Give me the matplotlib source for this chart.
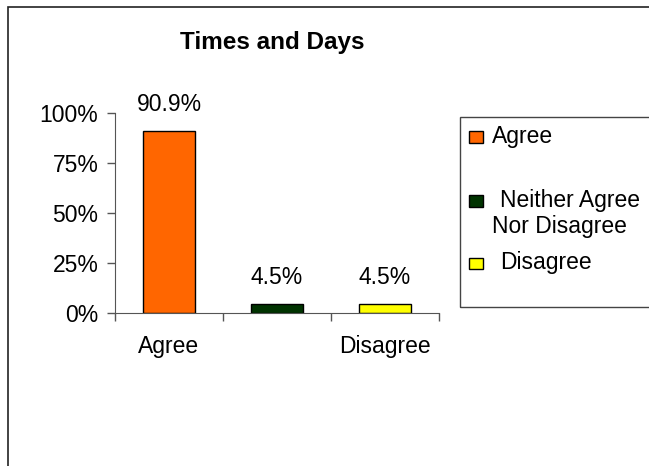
import numpy as np
import matplotlib.pyplot as plt
from matplotlib.patches import Rectangle

plt.rcParams['font.family'] = ['Liberation Sans', 'DejaVu Sans']

categories = ['Agree', 'Neither Agree Nor Disagree', 'Disagree']
tick_labels = ['Agree', '', 'Disagree']
legend_labels = ['Agree', ' Neither Agree\nNor Disagree', ' Disagree']
values = [0.909, 0.045, 0.045]
value_labels = ['90.9%', '4.5%', '4.5%']
colors = ['#FF6600', '#003300', '#FFFF00']

W, H = 649, 466
FS = 16.5
fig = plt.figure(figsize=(W/100, H/100), dpi=100)

def px(x, y):
    # pixel coords (from top-left) -> figure fraction
    return x / W, 1 - y / H

# outer chart border, runs off the right and bottom
fig.patches.append(Rectangle((8/W, -0.1), 1.2, 1 - 7/H + 0.1, transform=fig.transFigure,
                             fill=False, edgecolor='#222222', lw=1.2))

ax = fig.add_axes([115/W, 1 - 313/H, (439-115)/W, 200/H])
x = np.arange(len(values))
ax.bar(x, values, width=0.48, color=colors, edgecolor='black', lw=1.0)

for xi, v, lab in zip(x, values, value_labels):
    ax.annotate(lab, (xi, v), xytext=(0, 11), textcoords='offset points',
                ha='center', va='bottom', fontsize=FS)

ax.set_xlim(-0.5, 2.5)
ax.set_ylim(0, 1)
ax.set_yticks([0, 0.25, 0.5, 0.75, 1.0])
ax.set_yticklabels(['0%', '25%', '50%', '75%', '100%'], fontsize=FS)
ax.set_xticks(x)
ax.set_xticklabels(tick_labels, fontsize=FS)
ax.set_xticks([-0.5, 0.5, 1.5, 2.5], minor=True)
ax.tick_params(axis='x', which='major', length=0, pad=16)
ax.tick_params(axis='x', which='minor', length=6, color='#555555', width=1)
ax.tick_params(axis='y', length=6, color='#555555', width=1, pad=6)
for s in ['top', 'right']:
    ax.spines[s].set_visible(False)
for s in ['left', 'bottom']:
    ax.spines[s].set_color('#555555')

fig.text(*px(272, 42), 'Times and Days', ha='center', va='center',
         fontsize=17.5, fontweight='bold')

# legend drawn by hand: frame runs off the right edge
fig.patches.append(Rectangle(px(460, 307), 0.5, 190/H, transform=fig.transFigure,
                             fill=False, edgecolor='#444444', lw=1.0))
marker_y = [137, 201, 263]
for c, lab, my in zip(colors, legend_labels, marker_y):
    fig.patches.append(Rectangle(px(469, my + 5.5), 14/W, 11/H, transform=fig.transFigure,
                                 facecolor=c, edgecolor='black', lw=1.0))
    for i, line in enumerate(lab.split('\n')):
        tx = 492 + (8 if line.startswith(' ') else 0)
        fig.text(*px(tx, my + 26 * i), line.strip(), ha='left', va='center', fontsize=FS)

fig.savefig('out.png', dpi=100)
